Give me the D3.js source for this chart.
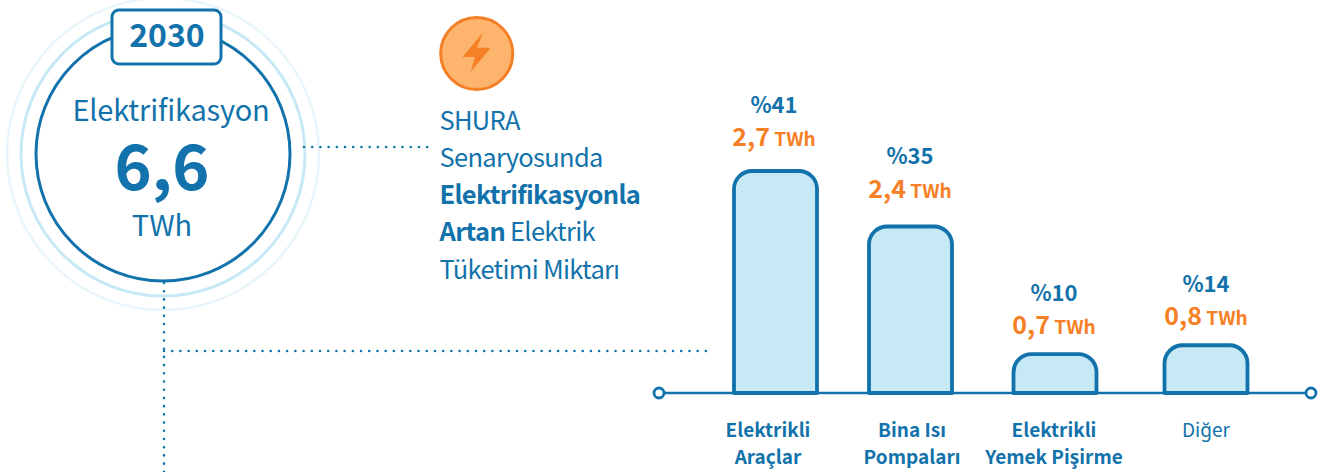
<!DOCTYPE html>
<html lang="tr">
<head>
<meta charset="utf-8">
<title>Elektrifikasyon 2030</title>
<script src="https://cdn.jsdelivr.net/npm/d3@7"></script>
<style>
    html, body { margin: 0; padding: 0; background: #fff; }
    svg { display: block; }
    text { font-family: "Noto Sans CJK SC", "Noto Sans", sans-serif; }
</style>
</head>
<body>
<div id="chart"></div>
<script>
// chart values
const categories = ['Elektrikli Araçlar', 'Bina Isı Pompaları', 'Elektrikli Yemek Pişirme', 'Diğer'];
const categoryLines = [['Elektrikli', 'Araçlar'], ['Bina Isı', 'Pompaları'], ['Elektrikli', 'Yemek Pişirme'], ['Diğer']];
const shareLabels = ['%41', '%35', '%10', '%14'];
const twhLabels = ['2,7', '2,4', '0,7', '0,8'];
// bar height as % of the tallest bar (bars are not to scale with the labels)
const barLevels = [100, 75, 17.5, 21.5];
const boldCategory = [true, true, true, false];

const width = 1327, height = 472;
const blue = '#1272ab', lightBlue = '#c7e8f5', paleBlue = '#e8f5fb', orange = '#f58025';

const svg = d3.select('#chart').append('svg')
    .attr('width', width)
    .attr('height', height);

// rings
const cx = 163, cy = 154;
svg.append('circle').attr('cx', cx).attr('cy', cy).attr('r', 156)
    .attr('fill', 'none').attr('stroke', paleBlue).attr('stroke-width', 2.5);
svg.append('circle').attr('cx', cx).attr('cy', cy).attr('r', 142)
    .attr('fill', 'none').attr('stroke', lightBlue).attr('stroke-width', 3);
svg.append('circle').attr('cx', cx).attr('cy', cy).attr('r', 127)
    .attr('fill', '#fff').attr('stroke', blue).attr('stroke-width', 3);

svg.append('rect')
    .attr('x', 112).attr('y', 10).attr('width', 109).attr('height', 54).attr('rx', 7)
    .attr('fill', '#fff').attr('stroke', blue).attr('stroke-width', 3);

function label(x, y, txt, size, weight, color, anchor) {
    return svg.append('text')
        .attr('x', x).attr('y', y)
        .attr('text-anchor', anchor || 'middle')
        .attr('font-size', size)
        .attr('font-weight', weight)
        .attr('fill', color)
        .text(txt);
}

label(167, 47, '2030', 32, 700, blue);
label(171, 121, 'Elektrifikasyon', 29, 400, blue).attr('letter-spacing', -0.2);
label(162, 190, '6,6', 63, 700, blue);
label(162, 236, 'TWh', 29, 400, blue);

// dotted connectors
const dotted = [[304, 147, 428, 147], [164, 283, 164, 472], [164, 351, 708, 351]];
svg.selectAll('.connector')
    .data(dotted)
    .enter().append('line')
    .attr('class', 'connector')
    .attr('x1', d => d[0]).attr('y1', d => d[1])
    .attr('x2', d => d[2]).attr('y2', d => d[3])
    .attr('stroke', blue)
    .attr('stroke-width', 2.6)
    .attr('stroke-linecap', 'round')
    .attr('stroke-dasharray', '0.01 8.2');

// lightning icon
svg.append('circle').attr('cx', 476.7).attr('cy', 53.5).attr('r', 36)
    .attr('fill', '#fdb46c').attr('stroke', '#f57f26').attr('stroke-width', 3);
svg.append('path')
    .attr('d', 'M482.5,33 L462.5,57 L475,57 L470.7,72 L490.7,47.7 L477.3,47.7 Z')
    .attr('fill', orange);

// side text
const sideText = svg.append('g').attr('fill', blue).attr('font-size', 25.5).attr('letter-spacing', -0.7);
sideText.append('text').attr('x', 439.5).attr('y', 130).text('SHURA');
sideText.append('text').attr('x', 439.5).attr('y', 167).text('Senaryosunda');
sideText.append('text').attr('x', 439.5).attr('y', 204).attr('font-weight', 700).text('Elektrifikasyonla');
const artan = sideText.append('text').attr('x', 439.5).attr('y', 241);
artan.append('tspan').attr('font-weight', 700).text('Artan');
artan.append('tspan').text(' Elektrik');
sideText.append('text').attr('x', 439.5).attr('y', 279).text('Tüketimi Miktarı');

// bar chart
const baseY = 393, barWidth = 83, barRadius = 18;
const barCenters = [775.5, 910.5, 1055, 1206];
const labelCenters = [774, 910, 1054, 1206];
const categoryCenters = [768, 912, 1054, 1206];
const labelGaps = [25, 29, 20, 20];

const xScale = d3.scaleOrdinal().domain(categories).range(barCenters);
const yScale = d3.scaleLinear().domain([0, 100]).range([baseY, 171]);

const bars = categories.map((c, i) => ({ name: c, level: barLevels[i], i: i }));

function barPath(d) {
    const x0 = xScale(d.name) - barWidth / 2, x1 = x0 + barWidth, top = yScale(d.level);
    const p = d3.path();
    p.moveTo(x0, baseY);
    p.lineTo(x0, top + barRadius);
    p.arcTo(x0, top, x0 + barRadius, top, barRadius);
    p.lineTo(x1 - barRadius, top);
    p.arcTo(x1, top, x1, top + barRadius, barRadius);
    p.lineTo(x1, baseY);
    p.closePath();
    return p.toString();
}

svg.append('line')
    .attr('x1', 659).attr('x2', 1311).attr('y1', baseY).attr('y2', baseY)
    .attr('stroke', blue).attr('stroke-width', 2.5);

svg.selectAll('.bar')
    .data(bars)
    .enter().append('path')
    .attr('class', 'bar')
    .attr('d', barPath)
    .attr('fill', lightBlue)
    .attr('stroke', blue)
    .attr('stroke-width', 3.8)
    .attr('stroke-linejoin', 'round');

svg.selectAll('.axis-end')
    .data([659, 1311])
    .enter().append('circle')
    .attr('class', 'axis-end')
    .attr('cx', d => d).attr('cy', baseY).attr('r', 5)
    .attr('fill', '#fff').attr('stroke', blue).attr('stroke-width', 2.8);

// share and TWh labels above the bars
bars.forEach(d => {
    const top = yScale(d.level), gap = labelGaps[d.i], x = labelCenters[d.i];
    label(x, top - gap - 33.5, shareLabels[d.i], 22, 700, blue);
    const t = label(x, top - gap, '', 25, 700, orange);
    t.append('tspan').text(twhLabels[d.i]);
    t.append('tspan').attr('font-size', 19).text(' TWh');
});

// category labels
bars.forEach(d => {
    categoryLines[d.i].forEach((line, j) => {
        label(categoryCenters[d.i], 437 + j * 26.5, line, 19, boldCategory[d.i] ? 700 : 400, blue);
    });
});
</script>
</body>
</html>
